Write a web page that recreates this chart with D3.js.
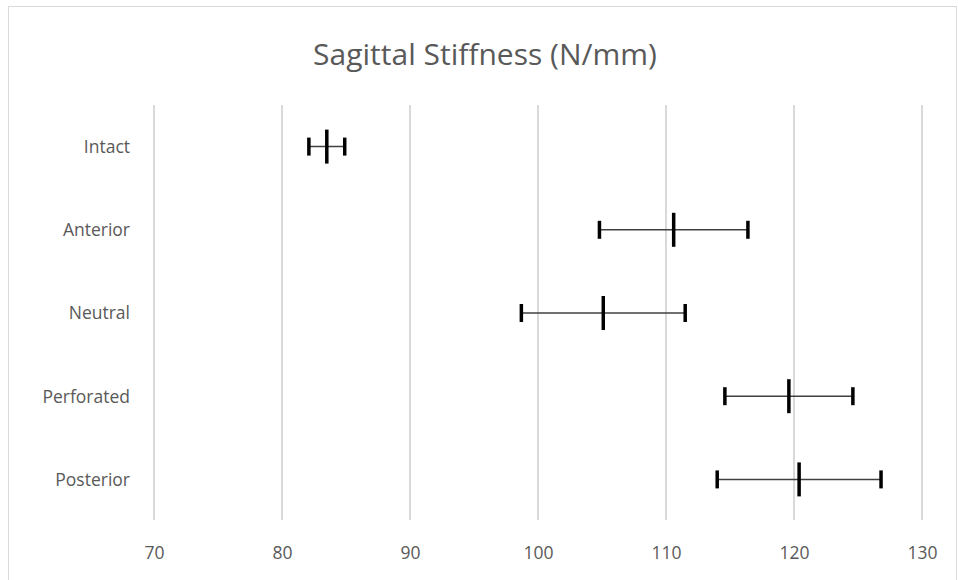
<!DOCTYPE html>
<html>
<head>
<meta charset="utf-8">
<script src="https://cdn.jsdelivr.net/npm/d3@7"></script>
<style>
  body { margin: 0; background: #fff; }
  text { font-family: "Open Sans", "Liberation Sans", sans-serif; fill: #595959; }
</style>
</head>
<body>
<div id="chart"></div>
<script>
// values
var categories = ["Intact", "Anterior", "Neutral", "Perforated", "Posterior"];
var means = [83.5, 110.6, 105.1, 119.6, 120.4];
var errors = [1.4, 5.8, 6.4, 5.0, 6.4];
var xTicks = [70, 80, 90, 100, 110, 120, 130];

var width = 958,
    height = 580;

var svg = d3.select("#chart").append("svg")
    .attr("width", width)
    .attr("height", height);

// chart frame
svg.append("rect")
    .attr("x", 8.5).attr("y", 6.5)
    .attr("width", 948).attr("height", 580)
    .attr("fill", "none")
    .attr("stroke", "#d9d9d9");

svg.append("text")
    .attr("x", 485).attr("y", 65)
    .attr("text-anchor", "middle")
    .style("font-size", "30px")
    .text("Sagittal Stiffness (N/mm)");

var x = d3.scaleLinear().domain([70, 130]).range([154, 922]);
var y = d3.scaleBand().domain(categories).range([105, 521]);

// vertical gridlines
svg.selectAll(".grid")
    .data(xTicks)
    .enter().append("line")
    .attr("x1", function(d){ return x(d); })
    .attr("x2", function(d){ return x(d); })
    .attr("y1", 105).attr("y2", 520)
    .attr("stroke", "#d9d9d9")
    .attr("stroke-width", 2);

var xAxis = d3.axisBottom(x).tickValues(xTicks).tickSize(0).tickPadding(0);
var gx = svg.append("g")
    .attr("transform", "translate(0,559)")
    .call(xAxis);
gx.select(".domain").remove();
gx.selectAll("text")
    .attr("y", 0)
    .attr("dy", 0)
    .style("font-size", "17.5px")
    .style("fill", "#595959");

var yAxis = d3.axisLeft(y).tickSize(0).tickPadding(0);
var gy = svg.append("g")
    .attr("transform", "translate(130,0)")
    .call(yAxis);
gy.select(".domain").remove();
gy.selectAll("text")
    .attr("dy", "0.37em")
    .style("font-size", "17.5px")
    .style("fill", "#595959");

// error bars
var rows = categories.map(function(c, i){
    return {name: c, mean: means[i], err: errors[i]};
});
var bars = svg.selectAll(".bar")
    .data(rows)
    .enter().append("g")
    .attr("class", "bar")
    .attr("transform", function(d){ return "translate(0," + (y(d.name) + y.bandwidth() / 2) + ")"; });

bars.append("line")
    .attr("x1", function(d){ return x(d.mean - d.err); })
    .attr("x2", function(d){ return x(d.mean + d.err); })
    .attr("stroke", "#404040")
    .attr("stroke-width", 1.5);

bars.selectAll(".cap")
    .data(function(d){ return [d.mean - d.err, d.mean + d.err]; })
    .enter().append("line")
    .attr("x1", function(v){ return x(v); })
    .attr("x2", function(v){ return x(v); })
    .attr("y1", -9).attr("y2", 9)
    .attr("stroke", "#000")
    .attr("stroke-width", 3.5);

bars.append("line")
    .attr("x1", function(d){ return x(d.mean); })
    .attr("x2", function(d){ return x(d.mean); })
    .attr("y1", -17).attr("y2", 17)
    .attr("stroke", "#000")
    .attr("stroke-width", 3.5);
</script>
</body>
</html>
